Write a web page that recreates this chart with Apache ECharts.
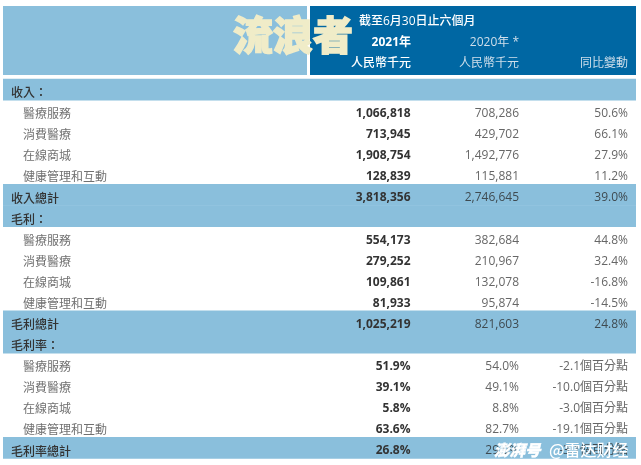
<!DOCTYPE html>
<html>
<head>
<meta charset="utf-8">
<style>
html,body{margin:0;padding:0;background:#fff}
#main{width:641px;height:465px;filter:blur(0.4px)}
</style>
<script src="https://cdn.jsdelivr.net/npm/echarts@6/dist/echarts.min.js"></script>
</head>
<body>
<div id="main"></div>
<script>
var headerRows = ['period', 'year', 'unit'];
var headerPeriod = '截至6月30日止六個月';
var headerYear = ['2021年', '2020年 *', ''];
var headerUnit = ['人民幣千元', '人民幣千元', '同比變動'];

var rowLabels = ['收入：', '醫療服務', '消費醫療', '在線商城', '健康管理和互動', '收入總計',
	'毛利：', '醫療服務', '消費醫療', '在線商城', '健康管理和互動', '毛利總計',
	'毛利率：', '醫療服務', '消費醫療', '在線商城', '健康管理和互動', '毛利率總計'];
var values2021 = ['', '1,066,818', '713,945', '1,908,754', '128,839', '3,818,356',
	'', '554,173', '279,252', '109,861', '81,933', '1,025,219',
	'', '51.9%', '39.1%', '5.8%', '63.6%', '26.8%'];
var values2020 = ['', '708,286', '429,702', '1,492,776', '115,881', '2,746,645',
	'', '382,684', '210,967', '132,078', '95,874', '821,603',
	'', '54.0%', '49.1%', '8.8%', '82.7%', '29.9%'];
var changes = ['', '50.6%', '66.1%', '27.9%', '11.2%', '39.0%',
	'', '44.8%', '32.4%', '-16.8%', '-14.5%', '24.8%',
	'', '-2.1個百分點', '-10.0個百分點', '-3.0個百分點', '-19.1個百分點', '-3.1個百分點'];
// rows sitting on the light blue band
var bandRows = [0, 5, 6, 11, 12, 17];

var font = "'Open Sans','Noto Sans CJK TC',sans-serif";
var cjk = "'Noto Sans CJK TC',sans-serif";
var lightBlue = '#8abfdc';
var darkBlue = '#0067a3';
var textOffset = 3; // text sits a little under the middle of its row

var myChart = echarts.init(document.getElementById('main'));

function txt(x, y, s, align, color, weight, family) {
	return {
		type: 'text',
		style: {
			x: x, y: y, text: s, align: align, verticalAlign: 'middle',
			fill: color, fontSize: 12, fontWeight: weight, fontFamily: family || font
		}
	};
}

option = {
	animation: false,
	backgroundColor: '#fff',
	grid: [
		{ left: 0, right: 0, top: 79, height: 379.5 },
		{ left: 0, right: 0, top: 9.5, height: 63 }
	],
	xAxis: [
		{ type: 'value', min: 0, max: 641, show: false, gridIndex: 0 },
		{ type: 'value', min: 0, max: 641, show: false, gridIndex: 1 }
	],
	yAxis: [
		{ type: 'category', inverse: true, show: false, gridIndex: 0, data: rowLabels },
		{ type: 'category', inverse: true, show: false, gridIndex: 1, data: headerRows }
	],
	graphic: [
		{ type: 'rect', shape: { x: 3, y: 6, width: 304, height: 69 }, style: { fill: lightBlue }, z: 0 },
		{ type: 'rect', shape: { x: 310, y: 6, width: 326, height: 69 }, style: { fill: darkBlue }, z: 0 },
		// watermarks
		{ type: 'text', z: 100, style: { x: 293, y: 35, text: '流浪者', align: 'center', verticalAlign: 'middle',
			fill: '#f0ecc8', stroke: '#f0ecc8', lineWidth: 1.5, fontSize: 40, fontWeight: 900, fontFamily: cjk } },
		{ type: 'text', z: 100, style: { x: 494, y: 450, text: '澎湃号', align: 'left', verticalAlign: 'middle',
			fill: '#fff', stroke: '#fff', lineWidth: 0.4, fontSize: 15.5, fontWeight: 900, fontStyle: 'italic', fontFamily: cjk } },
		{ type: 'text', z: 100, style: { x: 549, y: 450, text: '@雷达财经', align: 'left', verticalAlign: 'middle',
			fill: '#fff', fontSize: 16, fontWeight: 500, fontFamily: cjk } }
	],
	series: [
		{
			type: 'custom',
			xAxisIndex: 0,
			yAxisIndex: 0,
			coordinateSystem: 'cartesian2d',
			clip: false,
			data: rowLabels.map(function (name, i) { return [i, name]; }),
			renderItem: function (params, api) {
				var i = api.value(0);
				var band = bandRows.indexOf(i) >= 0;
				var size = api.size([0, 1]);
				var y = api.coord([0, i])[1];
				var left = api.coord([3, i])[0];
				var right = api.coord([636, i])[0];
				var children = [];
				if (band) {
					children.push({
						type: 'rect',
						shape: { x: left, y: y - size[1] / 2 - 0.3, width: right - left, height: size[1] + 0.6 },
						style: { fill: lightBlue }
					});
				}
				var ty = y + textOffset;
				var soft = band ? '#3f4a50' : '#666';
				children.push(txt(band ? 11 : 23, ty, rowLabels[i], 'left', band ? '#333' : '#707070', band ? 500 : 400, cjk));
				children.push(txt(410.5, ty, values2021[i], 'right', '#333', 700));
				children.push(txt(519, ty, values2020[i], 'right', soft, 400));
				children.push(txt(628, ty, changes[i], 'right', soft, 400));
				return { type: 'group', children: children };
			}
		},
		{
			type: 'custom',
			xAxisIndex: 1,
			yAxisIndex: 1,
			coordinateSystem: 'cartesian2d',
			clip: false,
			data: headerRows.map(function (name, i) { return [i, name]; }),
			renderItem: function (params, api) {
				var i = api.value(0);
				var y = api.coord([0, i])[1] + 2;
				if (i === 0) {
					return txt(359, y, headerPeriod, 'left', '#fff', 500);
				}
				var cols = i === 1 ? headerYear : headerUnit;
				return {
					type: 'group',
					children: [
						txt(411, y, cols[0], 'right', '#fff', i === 1 ? 700 : 500),
						txt(519, y, cols[1], 'right', '#cfdfeb', 400),
						txt(628, y, cols[2], 'right', '#cfdfeb', 400)
					]
				};
			}
		}
	]
};
myChart.setOption(option);
</script>
</body>
</html>
